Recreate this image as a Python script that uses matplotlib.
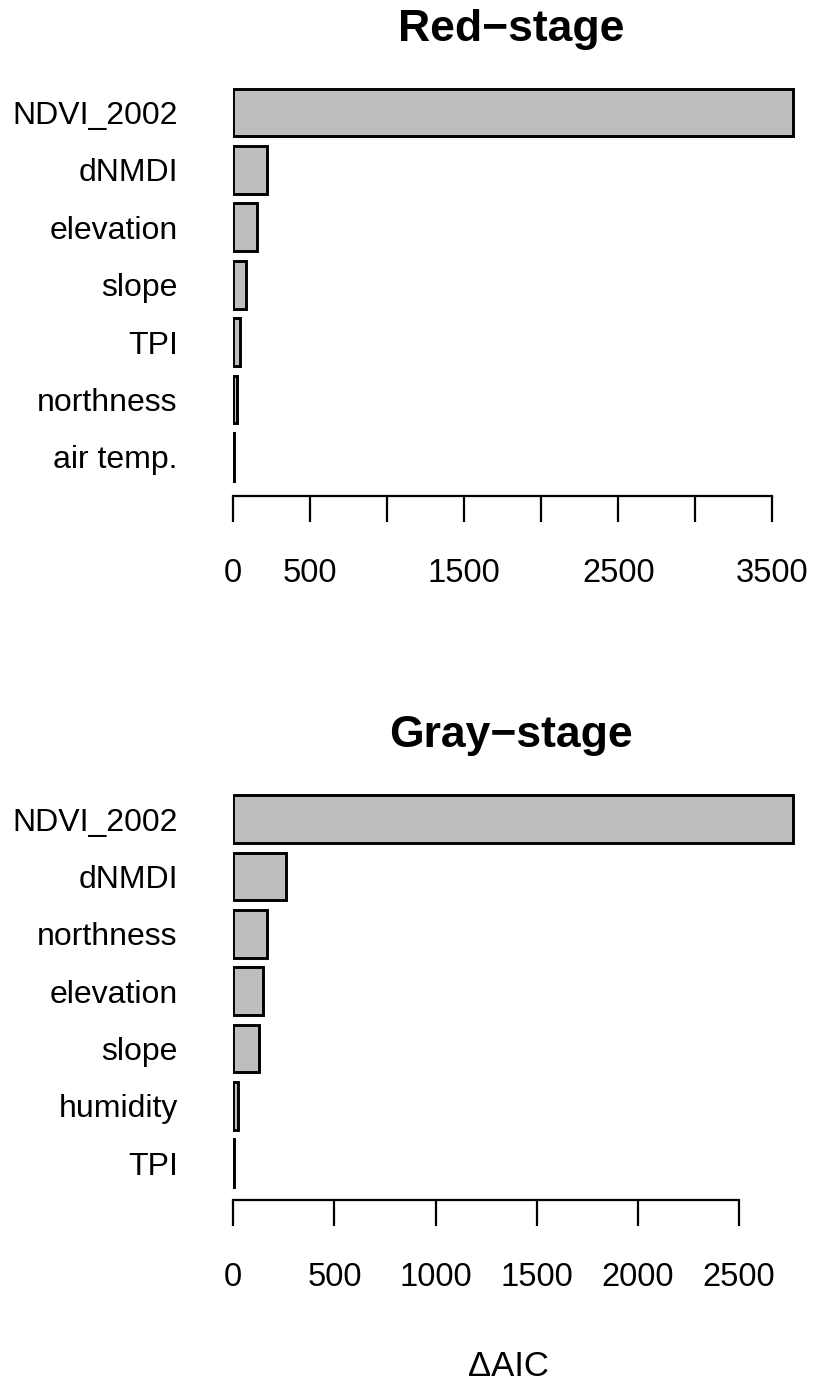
import matplotlib
matplotlib.use("Agg")
import matplotlib.pyplot as plt
import numpy as np

plt.rcParams['font.family'] = ['Liberation Sans', 'DejaVu Sans']

# ---- data (top-to-bottom order as displayed) ----
red_vars = ["NDVI_2002", "dNMDI", "elevation", "slope", "TPI", "northness", "air temp."]
red_vals = [3636, 217, 152, 82, 43, 26, 3]
red_ticks = [0, 500, 1000, 1500, 2000, 2500, 3000, 3500]
red_ticklabels = ["0", "500", "", "1500", "", "2500", "", "3500"]

gray_vars = ["NDVI_2002", "dNMDI", "northness", "elevation", "slope", "humidity", "TPI"]
gray_vals = [2770, 261, 165, 145, 126, 22, 2]
gray_ticks = [0, 500, 1000, 1500, 2000, 2500]
gray_ticklabels = ["0", "500", "1000", "1500", "2000", "2500"]

W, H = 814, 1385
fig = plt.figure(figsize=(W / 100, H / 100), dpi=100)
fig.patch.set_facecolor("white")


def px_axes(left, top, right, bottom):
    return fig.add_axes([left / W, 1 - bottom / H, (right - left) / W, (bottom - top) / H])


def panel(left, top, right, bottom, ylo, xscale, names, vals, ticks, ticklabels):
    ax = px_axes(left, top, right, bottom)
    n = len(names)
    pos = 0.7 + 1.2 * np.arange(n)[::-1]
    ax.barh(pos, vals, height=1.0, color="#BEBEBE", edgecolor="black",
            linewidth=2.1, left=0)
    ax.set_ylim(ylo, 8.6)
    ax.set_xlim(0, (right - left) / xscale)
    for s in ("left", "top", "right"):
        ax.spines[s].set_visible(False)
    ax.spines["bottom"].set_bounds(ticks[0], ticks[-1])
    ax.spines["bottom"].set_linewidth(1.6)
    ax.set_xticks(ticks)
    ax.set_xticklabels(ticklabels)
    ax.tick_params(axis="x", direction="out", length=18.5, width=1.6,
                   labelsize=23.5, pad=26)
    ax.set_yticks(pos)
    ax.set_yticklabels(names)
    ax.tick_params(axis="y", length=0, labelsize=23, pad=40)
    ax.patch.set_visible(False)
    return ax


# top panel: 500 units = 77 px ; bottom: 500 units = 101.1 px
panel(233.3, 79, 800, 496, -0.118, 77.0 / 500, red_vars, red_vals, red_ticks, red_ticklabels)
panel(233.3, 785.6, 800, 1200, -0.069, 101.1 / 500, gray_vars, gray_vals, gray_ticks, gray_ticklabels)

fig.text(511 / W, 1 - 30 / H, "Red\u2212stage", ha="center", va="center",
         fontsize=32, fontweight="bold")
fig.text(511 / W, 1 - 735 / H, "Gray\u2212stage", ha="center", va="center",
         fontsize=32, fontweight="bold")
fig.text(508 / W, 1 - 1366 / H, "\u0394AIC", ha="center", va="center", fontsize=25)

fig.savefig("out.png", dpi=100, facecolor="white")
